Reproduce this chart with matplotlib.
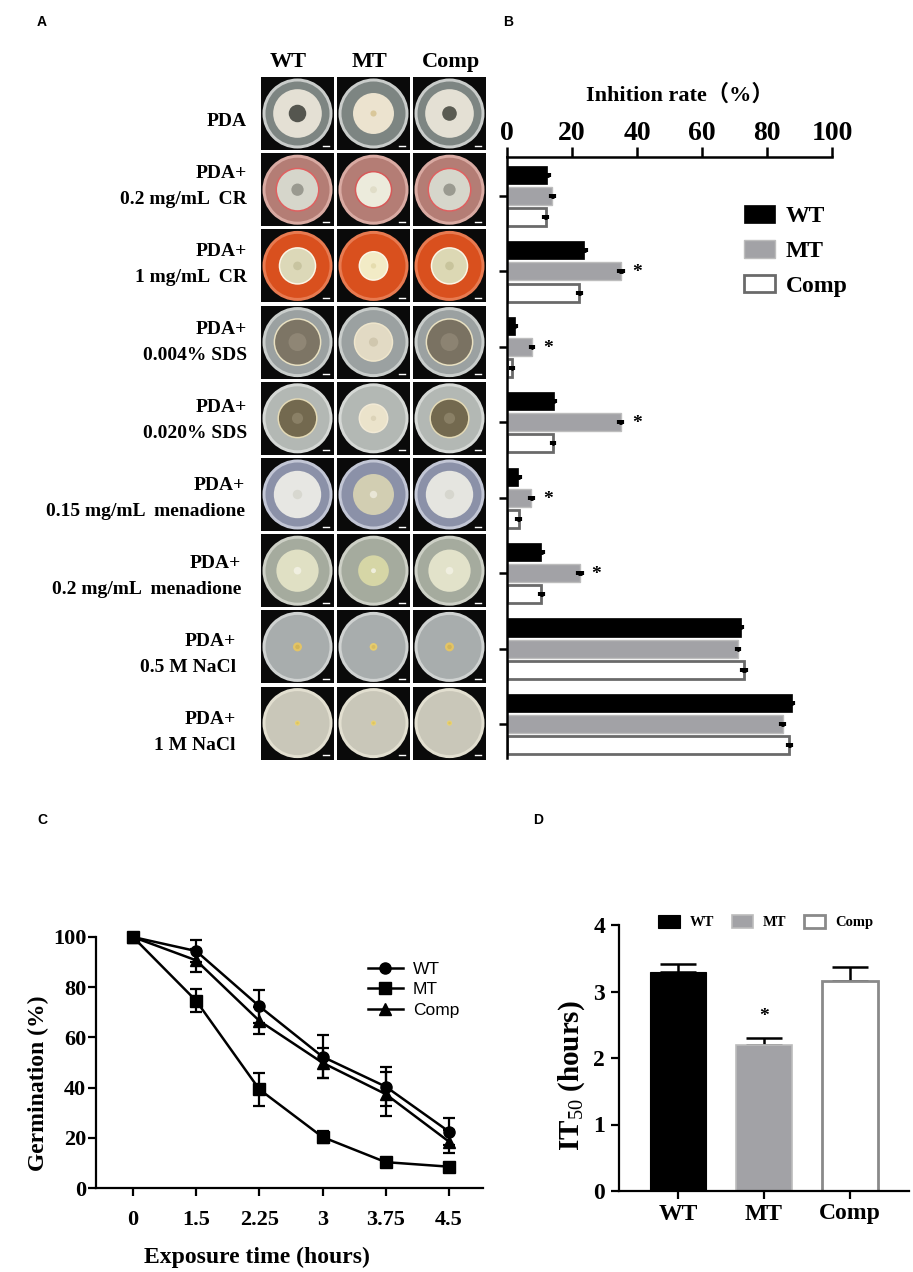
import matplotlib
matplotlib.use('Agg')
import matplotlib.pyplot as plt
import numpy as np
from matplotlib.patches import Rectangle, Circle, Patch
from matplotlib.lines import Line2D

plt.rcParams['mathtext.fontset'] = 'custom'
plt.rcParams['mathtext.rm'] = 'Liberation Serif'
plt.rcParams['mathtext.bf'] = 'Liberation Serif:bold'
plt.rcParams['mathtext.default'] = 'rm'

W, H = 913, 1272
fig = plt.figure(figsize=(W / 100, H / 100), dpi=100)

SERIF = ['Liberation Serif', 'DejaVu Serif']
SERIF_CJK = ['Liberation Serif', 'Noto Sans CJK SC']
SANS = ['Liberation Sans', 'DejaVu Sans']

# ---------------- data ----------------
strains = ['WT', 'MT', 'Comp']
condition_line1 = ['', 'PDA+', 'PDA+', 'PDA+', 'PDA+', 'PDA+', 'PDA+', 'PDA+', 'PDA+']
condition_line2 = ['PDA', '0.2 mg/mL  CR', '1 mg/mL  CR', '0.004% SDS', '0.020% SDS',
                   '0.15 mg/mL  menadione', '0.2 mg/mL  menadione', '0.5 M NaCl', '1 M NaCl']

# Panel B: inhibition rate (%) for the 8 stress conditions
inhib_wt = [12.4, 23.7, 2.4, 14.4, 3.4, 10.6, 71.9, 87.6]
inhib_mt = [13.9, 35.0, 7.7, 35.0, 7.5, 22.4, 71.1, 84.8]
inhib_comp = [11.9, 22.2, 1.5, 14.1, 3.6, 10.6, 72.9, 86.9]
inhib_wt_err = [0.5, 0.5, 0.4, 0.4, 0.5, 0.6, 0.5, 0.3]
inhib_mt_err = [0.5, 0.6, 0.4, 0.4, 0.5, 0.7, 0.4, 0.4]
inhib_comp_err = [0.5, 0.5, 0.4, 0.4, 0.5, 0.4, 0.6, 0.4]
inhib_sig = [False, True, True, True, True, True, False, False]
inhib_ticks = [0, 20, 40, 60, 80, 100]

# Panel C: germination (%)
exposure_times = ['0', '1.5', '2.25', '3', '3.75', '4.5']
germ_wt = [100, 94.4, 72.4, 52.3, 40.4, 22.5]
germ_wt_err = [0, 4.3, 6.5, 8.5, 7.9, 5.3]
germ_mt = [100, 74.6, 39.3, 20.3, 10.3, 8.5]
germ_mt_err = [0, 4.5, 6.7, 2.5, 1.0, 1.0]
germ_comp = [100, 90.7, 66.6, 49.9, 37.4, 18.5]
germ_comp_err = [0, 4.7, 5.4, 6.0, 8.9, 4.5]

# Panel D: IT50 (hours)
it50 = [3.30, 2.20, 3.16]
it50_err = [0.11, 0.10, 0.21]
it50_sig = [False, True, False]

# ---------------- helpers ----------------
def fx(x):
    return x / W

def fy(y):
    return 1 - y / H

# ---------------- Panel A (plate photographs, drawn schematically) ----------------
axA = fig.add_axes([0, 0, 1, 1])
axA.set_xlim(0, W)
axA.set_ylim(H, 0)
axA.axis('off')

col_x = [261, 337, 413]
tile = 73
row_y0 = 77
row_pitch = 76.2
# plate appearance per row: (agar colour, rim colour)
plate_style = [
    ('#7d8582', '#c9ccca'),
    ('#b47d75', '#d9aaa2'),
    ('#d9501e', '#e87a50'),
    ('#9ba1a1', '#c9cdcb'),
    ('#b3b8b4', '#d5d8d5'),
    ('#8b91a8', '#c2c6d5'),
    ('#a5ab9e', '#cdd0c6'),
    ('#a8adad', '#cfd2d1'),
    ('#c9c7b9', '#e2dfd0'),
]
# colony appearance per row and strain: (radius fraction, colony colour, centre colour, centre frac, ring colour)
colony_style = [
    [(0.76, '#e4e0d4', '#55564f', 0.36, None), (0.64, '#ece3cf', '#d9c79a', 0.15, None), (0.76, '#e4e0d4', '#5a5b52', 0.30, None)],
    [(0.64, '#d6d6cb', '#9a9a90', 0.30, '#e06060'), (0.54, '#ecebdc', '#e0ddc8', 0.20, '#d85858'), (0.64, '#d6d6cb', '#9a9a90', 0.30, '#e06060')],
    [(0.54, '#dcd8b8', '#c8c4a0', 0.25, '#fbf6e6'), (0.42, '#f2ebc6', '#e5dcae', 0.20, '#fbf6e6'), (0.54, '#dcd8b4', '#c8c49c', 0.25, '#fbf6e6')],
    [(0.70, '#7d7565', '#8f8675', 0.40, '#e9e1c2'), (0.57, '#e2dac4', '#d0c7ae', 0.25, '#efe6cc'), (0.70, '#7a7262', '#8c8372', 0.40, '#e9e1c2')],
    [(0.58, '#73694f', '#8a8066', 0.30, '#e4dab6'), (0.42, '#ebe3cb', '#dcd3b8', 0.20, '#f2ead6'), (0.58, '#73694f', '#8a8066', 0.30, '#e4dab6')],
    [(0.74, '#e7e7e3', '#d8d8d0', 0.20, None), (0.64, '#d2ceb2', '#e9e6d6', 0.18, None), (0.74, '#e5e5e0', '#d6d6ce', 0.20, None)],
    [(0.66, '#e0e0c4', '#f0efe0', 0.18, None), (0.48, '#d6d6a6', '#efeedc', 0.16, None), (0.66, '#e2e2ca', '#f0efe0', 0.18, None)],
    [(0.14, '#e3c466', '#d2b458', 0.5, None), (0.12, '#e6cc6e', '#d8bc60', 0.5, None), (0.14, '#e3c466', '#d2b458', 0.5, None)],
    [(0.08, '#e9d272', '#dcc464', 0.5, None), (0.08, '#e9d272', '#dcc464', 0.5, None), (0.08, '#e9d272', '#dcc464', 0.5, None)],
]

for i in range(len(condition_line2)):
    y0 = row_y0 + i * row_pitch
    agar, rim = plate_style[i]
    for j in range(3):
        x0 = col_x[j]
        axA.add_patch(Rectangle((x0, y0), tile, tile, facecolor='#0a0a0a', edgecolor='none'))
        cx, cy = x0 + tile / 2, y0 + tile / 2
        R = 35
        axA.add_patch(Circle((cx, cy), R, facecolor=rim, edgecolor='none'))
        axA.add_patch(Circle((cx, cy), R - 3, facecolor=agar, edgecolor='none'))
        rf, ccol, cen, cfrac, ring = colony_style[i][j]
        r = rf * (R - 3)
        if ring is not None:
            axA.add_patch(Circle((cx, cy), r + 1.5, facecolor=ring, edgecolor='none'))
        axA.add_patch(Circle((cx, cy), r, facecolor=ccol, edgecolor='none'))
        axA.add_patch(Circle((cx, cy), r * cfrac, facecolor=cen, edgecolor='none'))
        axA.plot([x0 + 62, x0 + 68], [y0 + 68.5, y0 + 68.5], color='white', lw=1)

col_header_x = [288, 369, 451]
for j, s in enumerate(strains):
    axA.text(col_header_x[j], 62, s, ha='center', va='center', fontsize=16,
             fontweight='bold', family=SERIF)

label_right = [247, 247, 247, 247, 247, 245, 241, 236, 236]
for i in range(len(condition_line2)):
    ybase = 173 + 78 * (i - 1)
    if condition_line1[i]:
        axA.text(label_right[i], ybase, condition_line1[i], ha='right', va='center',
                 fontsize=14, fontweight='bold', family=SERIF)
    axA.text(label_right[i], ybase + 26, condition_line2[i], ha='right', va='center',
             fontsize=14, fontweight='bold', family=SERIF)

# panel letters
for letter, (x, y) in zip('ABCD', [(42, 22), (508, 22), (42, 820), (538, 820)]):
    fig.text(fx(x), fy(y), letter, ha='center', va='center', fontsize=10,
             fontweight='bold', family=SANS)

# ---------------- Panel B ----------------
axB = fig.add_axes([fx(507), fy(758), fx(832 - 507), (758 - 157) / H])
n = len(inhib_wt)
pos = np.arange(1, n + 1)
off = 0.28
hgt = 0.24
ekw = dict(ecolor='black', elinewidth=3.5, capsize=1.5, capthick=3, lw=0)
axB.barh(pos - off, inhib_wt, height=hgt, color='black', edgecolor='black', lw=0.5, label='WT')
axB.barh(pos, inhib_mt, height=hgt, color='#a2a2a6', edgecolor='#bdbdbd', lw=1, label='MT')
axB.barh(pos + off, inhib_comp, height=hgt, color='white', edgecolor='#6a6a6a', lw=2, label='Comp')
axB.errorbar(inhib_wt, pos - off, xerr=inhib_wt_err, fmt='none', **ekw)
axB.errorbar(inhib_mt, pos, xerr=inhib_mt_err, fmt='none', **ekw)
axB.errorbar(inhib_comp, pos + off, xerr=inhib_comp_err, fmt='none', **ekw)
for k in range(n):
    if inhib_sig[k]:
        axB.text(inhib_mt[k] + 5, pos[k] + 0.02, '*', ha='center', va='center', fontsize=14,
                 fontweight='bold', family=SERIF)
axB.set_xlim(0, 100)
axB.set_ylim(8.45, 0.483)
axB.xaxis.tick_top()
axB.set_xticks(inhib_ticks)
axB.set_xticklabels([str(t) for t in inhib_ticks], fontsize=20, fontweight='bold', family=SERIF)
axB.set_yticks(pos)
axB.set_yticklabels([])
for s in ['right', 'bottom']:
    axB.spines[s].set_visible(False)
for s in ['top', 'left']:
    axB.spines[s].set_linewidth(1.8)
axB.tick_params(axis='x', which='major', direction='out', length=7, width=1.8, pad=1)
axB.tick_params(axis='y', which='major', direction='out', length=6, width=1.8)
axB.patch.set_alpha(0)
fig.text(fx(680), fy(95), 'Inhition rate（%）', ha='center', va='center', fontsize=16,
         fontweight='bold', family=SERIF_CJK)
legB = axB.legend(loc='upper left', bbox_to_anchor=(fx(735), fy(196)), bbox_transform=fig.transFigure,
                  frameon=False, handlelength=1.3, handleheight=0.75, handletextpad=0.45,
                  labelspacing=0.55, borderaxespad=0,
                  prop=dict(family=SERIF, weight='bold', size=17))

# ---------------- Panel C ----------------
axC = fig.add_axes([fx(96), fy(1188), fx(483 - 96), (1188 - 937) / H])
xi = np.arange(len(exposure_times))
common = dict(color='black', lw=1.8, markersize=8, capsize=4.5, elinewidth=1.6, capthick=1.6, clip_on=False)
markers = ['o', 's', '^']
axC.errorbar(xi, germ_wt, yerr=germ_wt_err, marker=markers[0], **common)
axC.errorbar(xi, germ_mt, yerr=germ_mt_err, marker=markers[1], **common)
axC.errorbar(xi, germ_comp, yerr=germ_comp_err, marker=markers[2], **common)
axC.set_xlim(-0.585, 5.54)
axC.set_ylim(0, 100)
axC.set_xticks(xi)
axC.set_xticklabels(exposure_times, fontsize=16, fontweight='bold', family=SERIF)
axC.set_yticks([0, 20, 40, 60, 80, 100])
axC.set_yticklabels(['0', '20', '40', '60', '80', '100'], fontsize=16, fontweight='bold', family=SERIF)
for s in ['right', 'top']:
    axC.spines[s].set_visible(False)
for s in ['left', 'bottom']:
    axC.spines[s].set_linewidth(1.6)
axC.tick_params(direction='out', length=6, width=1.6)
axC.tick_params(axis='x', pad=10)
axC.tick_params(axis='y', pad=1)
axC.patch.set_alpha(0)
fig.text(fx(38), fy(1083), 'Germination (%)', rotation=90, ha='center', va='center',
         fontsize=17, fontweight='bold', family=SERIF)
fig.text(fx(257), fy(1257), 'Exposure time (hours)', ha='center', va='center',
         fontsize=17, fontweight='bold', family=SERIF)
handlesC = [Line2D([], [], color='black', lw=1.8, marker=m, markersize=8) for m in markers]
legC = axC.legend(handlesC, strains, loc='upper left', bbox_to_anchor=(fx(361), fy(955)),
                  bbox_transform=fig.transFigure, frameon=False, handlelength=2.0,
                  handletextpad=0.6, labelspacing=0.3, borderaxespad=0,
                  prop=dict(family=SANS, size=12.5))

# ---------------- Panel D ----------------
axD = fig.add_axes([fx(619), fy(1191), fx(909 - 619), (1191 - 925) / H])
xd = np.arange(len(strains))
face = ['black', '#a2a2a6', 'white']
edge = ['black', '#bcbcbc', '#8a8a8a']
lws = [0.8, 1.2, 2.0]
for k in range(len(strains)):
    axD.bar(xd[k], it50[k], width=0.65, color=face[k], edgecolor=edge[k], lw=lws[k], zorder=2)
    axD.errorbar(xd[k], it50[k], yerr=[[0], [it50_err[k]]], fmt='none', ecolor='black',
                 elinewidth=1.8, capsize=13, capthick=1.8, zorder=1)
    if it50_sig[k]:
        axD.text(xd[k], it50[k] + it50_err[k] + 0.33, '*', ha='center', va='center',
                 fontsize=14, fontweight='bold', family=SERIF)
axD.set_xlim(-0.686, 2.686)
axD.set_ylim(0, 4)
axD.set_xticks(xd)
axD.set_xticklabels(strains, fontsize=17, fontweight='bold', family=SERIF)
axD.set_yticks([0, 1, 2, 3, 4])
axD.set_yticklabels(['0', '1', '2', '3', '4'], fontsize=17, fontweight='bold', family=SERIF)
for s in ['right', 'top']:
    axD.spines[s].set_visible(False)
for s in ['left', 'bottom']:
    axD.spines[s].set_linewidth(1.6)
axD.tick_params(direction='out', length=6, width=1.6)
axD.tick_params(axis='y', pad=4)
axD.tick_params(axis='x', pad=3)
axD.patch.set_alpha(0)
fig.text(fx(572), fy(1076), r'IT$_{50}$ (hours)', rotation=90, ha='center', va='center',
         fontsize=21, fontweight='bold', family=SERIF)
handlesD = [Patch(facecolor=face[k], edgecolor=edge[k] if k else 'black', lw=lws[k]) for k in range(3)]
legD = axD.legend(handlesD, strains, loc='center', bbox_to_anchor=(fx(766), fy(922)),
                  bbox_transform=fig.transFigure, ncol=3, frameon=False, handlelength=1.45,
                  handleheight=1.05, handletextpad=0.7, columnspacing=1.2, borderaxespad=0,
                  prop=dict(family=SERIF, weight='bold', size=10.5))

fig.savefig('out.png', dpi=100)
